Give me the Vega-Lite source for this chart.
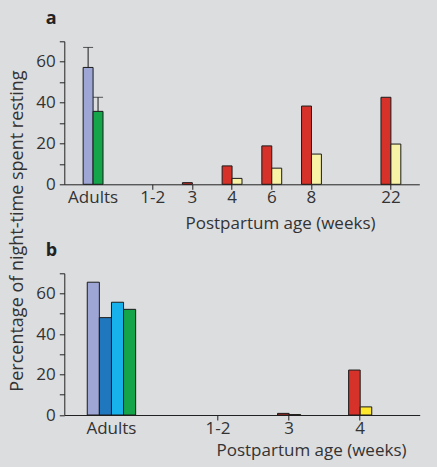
{
  "$schema": "https://vega.github.io/schema/vega-lite/v6.json",
  "background": "#dcdddf",
  "autosize": {"type": "none"},
  "padding": {"left": 64.3, "top": 41.3, "right": 372.7, "bottom": 425.7},
  "config": {
    "font": "Open Sans",
    "view": {"stroke": null},
    "axis": {
      "labelFont": "Open Sans", "labelFontSize": 17, "labelColor": "#333333",
      "titleFont": "Open Sans", "titleFontSize": 17, "titleFontWeight": "normal", "titleColor": "#333333",
      "domainColor": "#222222", "tickColor": "#222222", "grid": false, "tickSize": 5
    },
    "title": {"font": "Open Sans", "fontSize": 18, "fontWeight": "bold", "color": "#222222", "anchor": "start", "frame": "group", "baseline": "alphabetic", "offset": 13}
  },
  "datasets": {
    "a": [
      {"age": "Adults", "group": "Adult series 1", "value": 57.2, "upper": 67.0},
      {"age": "Adults", "group": "Adult series 2", "value": 35.7, "upper": 42.6},
      {"age": "1-2", "group": "Postpartum series 1", "value": 0},
      {"age": "1-2", "group": "Postpartum series 2", "value": 0},
      {"age": "3", "group": "Postpartum series 1", "value": 0.8},
      {"age": "3", "group": "Postpartum series 2", "value": 0},
      {"age": "4", "group": "Postpartum series 1", "value": 9.0},
      {"age": "4", "group": "Postpartum series 2", "value": 2.9},
      {"age": "6", "group": "Postpartum series 1", "value": 18.8},
      {"age": "6", "group": "Postpartum series 2", "value": 7.9},
      {"age": "8", "group": "Postpartum series 1", "value": 38.3},
      {"age": "8", "group": "Postpartum series 2", "value": 14.8},
      {"age": "22", "group": "Postpartum series 1", "value": 42.6},
      {"age": "22", "group": "Postpartum series 2", "value": 19.7}
    ],
    "b": [
      {"age": "Adults", "group": "Adult series 1", "value": 65.6},
      {"age": "Adults", "group": "Adult series 3", "value": 48.1},
      {"age": "Adults", "group": "Adult series 4", "value": 55.7},
      {"age": "Adults", "group": "Adult series 2", "value": 52.2},
      {"age": "1-2", "group": "Postpartum series 1", "value": 0},
      {"age": "1-2", "group": "Postpartum series 2", "value": 0},
      {"age": "3", "group": "Postpartum series 1", "value": 0.8},
      {"age": "3", "group": "Postpartum series 2", "value": 0.2},
      {"age": "4", "group": "Postpartum series 1", "value": 22.2},
      {"age": "4", "group": "Postpartum series 2", "value": 4.0}
    ]
  },
  "resolve": {"scale": {"x": "independent", "y": "independent", "color": "independent", "xOffset": "independent"}},
  "bounds": "flush",
  "spacing": 89,
  "vconcat": [
    {
      "width": 355,
      "height": 143,
      "title": {"text": "a", "dx": -18.6},
      "data": {"name": "a"},
      "encoding": {
        "x": {
          "field": "age", "type": "nominal",
          "scale": {"domain": ["Adults", "s1", "s2", "1-2", "s3", "3", "s4", "4", "s5", "6", "s6", "8", "s7", "s8", "s9", "22"], "paddingInner": 0, "paddingOuter": 0.94, "align": 0.505},
          "axis": {
            "title": "Postpartum age (weeks)",
            "values": ["Adults", "1-2", "3", "4", "6", "8", "22"],
            "labelAngle": 0, "labelPadding": 0,
            "tickOpacity": {"condition": {"test": "datum.value === 'Adults'", "value": 0}, "value": 1},
            "titleX": 215.7, "titleY": 44.4, "titleAlign": "center", "titleBaseline": "alphabetic"
          }
        },
        "y": {
          "field": "value", "type": "quantitative",
          "scale": {"domain": [0, 70], "nice": false},
          "axis": {
            "title": "Percentage of night-time spent resting",
            "values": [0, 10, 20, 30, 40, 50, 60, 70], "labelExpr": "datum.value % 20 === 0 ? datum.label : ''", "labelPadding": 4,
            "titleX": -41.6, "titleY": 189.2, "titleAngle": -90, "titleAlign": "center", "titleBaseline": "alphabetic", "titleFontSize": 18
          }
        }
      },
      "layer": [
        {
          "transform": [{"filter": "datum.age === 'Adults'"}],
          "mark": {"type": "bar", "stroke": "#1a1a1a", "strokeWidth": 1},
          "encoding": {
            "xOffset": {"field": "group", "scale": {"domain": ["Adult series 1", "Adult series 2"], "paddingInner": 0}},
            "color": {"field": "group", "legend": null, "scale": {"domain": ["Adult series 1", "Adult series 2", "Postpartum series 1", "Postpartum series 2"], "range": ["#9ea6d6", "#14a54b", "#d6322a", "#f8f2a6"]}}
          }
        },
        {
          "transform": [{"filter": "datum.age === 'Adults'"}],
          "mark": {"type": "rule", "color": "#1a1a1a", "strokeWidth": 1},
          "encoding": {
            "xOffset": {"field": "group", "scale": {"domain": ["Adult series 1", "Adult series 2"], "paddingInner": 0}},
            "y2": {"field": "upper"}
          }
        },
        {
          "transform": [{"filter": "datum.age === 'Adults'"}],
          "mark": {"type": "tick", "color": "#1a1a1a", "size": 10, "thickness": 1, "orient": "horizontal"},
          "encoding": {
            "xOffset": {"field": "group", "scale": {"domain": ["Adult series 1", "Adult series 2"], "paddingInner": 0}},
            "y": {"field": "upper", "type": "quantitative"}
          }
        },
        {
          "transform": [{"filter": "datum.age !== 'Adults' && datum.value > 0"}],
          "mark": {"type": "bar", "stroke": "#1a1a1a", "strokeWidth": 1},
          "encoding": {
            "xOffset": {"field": "group", "scale": {"domain": ["Postpartum series 1", "Postpartum series 2"], "paddingInner": 0}},
            "color": {"field": "group", "legend": null, "scale": {"domain": ["Adult series 1", "Adult series 2", "Postpartum series 1", "Postpartum series 2"], "range": ["#9ea6d6", "#14a54b", "#d6322a", "#f8f2a6"]}}
          }
        }
      ],
      "resolve": {"scale": {"xOffset": "independent"}}
    },
    {
      "width": 355.4,
      "height": 141.7,
      "title": {"text": "b", "dx": -18.6},
      "data": {"name": "b"},
      "encoding": {
        "x": {
          "field": "age", "type": "nominal",
          "scale": {"domain": ["Adults", "s1", "s2", "1-2", "s3", "3", "s4", "4"], "paddingInner": 0, "paddingOuter": 1.005, "align": 0.413},
          "axis": {
            "title": "Postpartum age (weeks)",
            "values": ["Adults", "1-2", "3", "4"],
            "labelAngle": 0, "labelPadding": 0,
            "tickOpacity": {"condition": {"test": "datum.value === 'Adults'", "value": 0}, "value": 1},
            "titleX": 246.7, "titleY": 40.7, "titleAlign": "center", "titleBaseline": "alphabetic"
          }
        },
        "y": {
          "field": "value", "type": "quantitative",
          "scale": {"domain": [0, 70], "nice": false},
          "axis": {
            "title": null,
            "values": [0, 10, 20, 30, 40, 50, 60, 70], "labelExpr": "datum.value % 20 === 0 ? datum.label : ''", "labelPadding": 4
          }
        }
      },
      "layer": [
        {
          "transform": [{"filter": "datum.age === 'Adults'"}],
          "mark": {"type": "bar", "stroke": "#1a1a1a", "strokeWidth": 1},
          "encoding": {
            "xOffset": {"field": "group", "scale": {"domain": ["Adult series 1", "Adult series 3", "Adult series 4", "Adult series 2"], "range": [-6.4, 42], "paddingInner": 0}},
            "color": {"field": "group", "legend": null, "scale": {"domain": ["Adult series 1", "Adult series 3", "Adult series 4", "Adult series 2", "Postpartum series 1", "Postpartum series 2"], "range": ["#9ea6d6", "#1f78be", "#17b2ec", "#14a54b", "#d6322a", "#ffe82c"]}}
          }
        },
        {
          "transform": [{"filter": "datum.age !== 'Adults' && datum.value > 0"}],
          "mark": {"type": "bar", "stroke": "#1a1a1a", "strokeWidth": 1},
          "encoding": {
            "xOffset": {"field": "group", "scale": {"domain": ["Postpartum series 1", "Postpartum series 2"], "range": [6.2, 29.3], "paddingInner": 0}},
            "color": {"field": "group", "legend": null, "scale": {"domain": ["Adult series 1", "Adult series 3", "Adult series 4", "Adult series 2", "Postpartum series 1", "Postpartum series 2"], "range": ["#9ea6d6", "#1f78be", "#17b2ec", "#14a54b", "#d6322a", "#ffe82c"]}}
          }
        }
      ],
      "resolve": {"scale": {"xOffset": "independent"}}
    }
  ]
}
